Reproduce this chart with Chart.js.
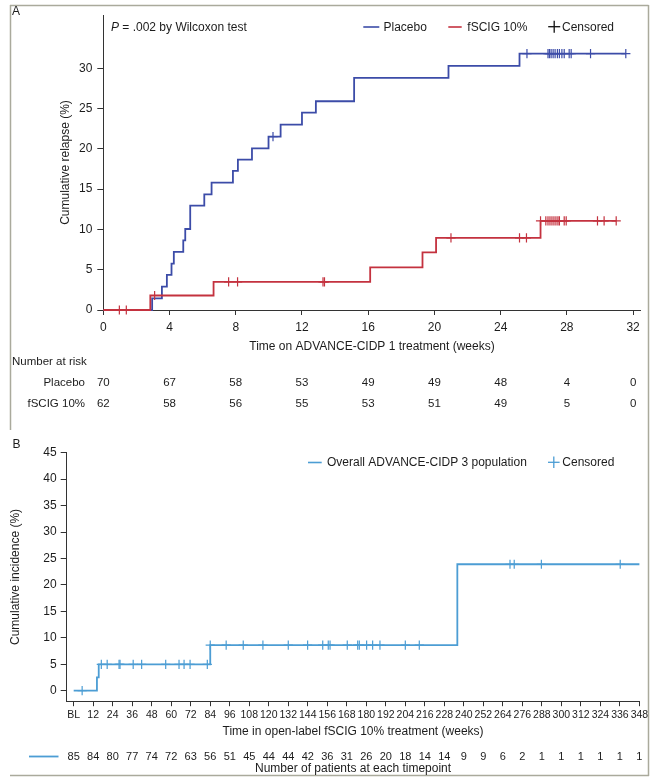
<!DOCTYPE html>
<html><head><meta charset="utf-8">
<script src="https://cdn.jsdelivr.net/npm/chart.js@4.4.1/dist/chart.umd.min.js"></script>
<style>
html,body{margin:0;padding:0;background:#fff;}
#wrap{position:relative;width:665px;height:777px;overflow:hidden;background:#fff;}
canvas{position:absolute;left:0;top:0;}
</style></head><body>
<div id="wrap"><canvas id="cA" width="665" height="777"></canvas><canvas id="cB" width="665" height="777"></canvas></div>
<script>
// ---------- Panel A data ----------
const placeboTimes   = [0, 2.95, 3.54, 3.84, 4.12, 4.26, 4.83, 4.95, 5.25, 6.10, 6.54, 7.83, 8.13, 8.98, 9.98, 10.71, 12.00, 12.84, 15.15, 20.85, 25.14, 31.56];
const placeboRelapse = [0, 1.45, 2.9, 4.35, 5.75, 7.2, 8.65, 10.05, 12.95, 14.35, 15.8, 17.25, 18.65, 20.05, 21.5, 23.0, 24.5, 25.9, 28.8, 30.3, 31.8, 31.8];
const placeboCensored = [10.25, 25.59, 26.86, 26.95, 27.05, 27.17, 27.29, 27.43, 27.55, 27.70, 27.84, 28.14, 28.26, 29.43, 31.56];
const fscigTimes   = [0, 2.84, 6.66, 16.12, 19.28, 20.10, 26.41, 30.98];
const fscigRelapse = [0, 1.8, 3.5, 5.3, 7.15, 8.95, 11.05, 11.05];
const fscigCensored = [0.97, 1.39, 3.10, 7.57, 8.11, 13.27, 13.36, 21.0, 25.14, 25.56, 26.41, 26.73, 26.86, 26.98, 27.10, 27.22, 27.34, 27.46, 27.55, 27.84, 27.96, 29.85, 30.25, 30.98];
const xTicksA = [0, 4, 8, 12, 16, 20, 24, 28, 32];
const yTicksA = [0, 5, 10, 15, 20, 25, 30];
const riskTimesA = [0, 4, 8, 12, 16, 20, 24, 28, 32];
const riskPlacebo = [70, 67, 58, 53, 49, 49, 48, 4, 0];
const riskFscig   = [62, 58, 56, 55, 53, 51, 49, 5, 0];

// ---------- Panel B data ----------
const overallTimes     = [0, 14.3, 15.4, 84.0, 236.0, 348];
const overallIncidence = [0, 2.5, 4.95, 8.6, 23.9, 23.9];
const overallCensored  = [5.2, 17.0, 20.6, 27.9, 28.5, 36.6, 41.8, 56.6, 64.8, 67.9, 71.6, 82.2, 84.0, 93.8, 104.3, 116.4, 132.0, 143.9, 153.2, 156.6, 157.7, 168.3, 174.7, 175.7, 180.2, 183.9, 188.4, 204.0, 212.6, 268.4, 271.0, 287.7, 336.2];
const xTickWeeksB  = [0, 12, 24, 36, 48, 60, 72, 84, 96, 108, 120, 132, 144, 156, 168, 180, 192, 204, 216, 228, 240, 252, 264, 276, 288, 300, 312, 324, 336, 348];
const xTickLabelsB = ['BL', '12', '24', '36', '48', '60', '72', '84', '96', '108', '120', '132', '144', '156', '168', '180', '192', '204', '216', '228', '240', '252', '264', '276', '288', '300', '312', '324', '336', '348'];
const patientsB    = [85, 84, 80, 77, 74, 72, 63, 56, 51, 45, 44, 44, 42, 36, 31, 26, 20, 18, 14, 14, 9, 9, 6, 2, 1, 1, 1, 1, 1, 1];
const yTicksB = [0, 5, 10, 15, 20, 25, 30, 35, 40, 45];

// ---------- styling ----------
const FONT = "'Liberation Sans', Arial, Helvetica, sans-serif";
const TXT = '#1c1c1c';
const AX = '#333333';
const BLUE_A = '#3c4ca8';
const RED_A = '#c4323f';
const BLUE_B = '#4c9dd4';
const FRAME = '#aaaa9c';

function stepPoints(times, vals) { return times.map((t, i) => ({ x: t, y: vals[i] })); }
function levelAt(times, vals, t) {
  let v = vals[0];
  for (let i = 0; i < times.length; i++) if (times[i] <= t + 1e-9) v = vals[i];
  return v;
}
function censorPoints(cens, times, vals) { return cens.map(t => ({ x: t, y: levelAt(times, vals, t) })); }

function lineDs(label, pts, color) {
  return { label, data: pts, stepped: true, borderColor: color, backgroundColor: color, borderWidth: 1.8,
    pointRadius: 0, pointHoverRadius: 0, fill: false, clip: false };
}
function censDs(label, pts, color) {
  return { label, data: pts, showLine: false, pointStyle: 'cross', pointRadius: 4.6, pointHoverRadius: 4.6,
    borderColor: color, backgroundColor: color, pointBorderWidth: 1.2, borderWidth: 1.2, clip: false };
}
function axis(tickVals, tickLen, pad, size, labels) {
  return {
    type: 'linear',
    afterBuildTicks: s => { s.ticks = tickVals.map(v => ({ value: v })); },
    grid: { display: true, drawOnChartArea: false, drawTicks: true, tickLength: tickLen, color: AX, lineWidth: 1 },
    border: { display: true, color: AX, width: 1 },
    ticks: { autoSkip: false, maxRotation: 0, minRotation: 0, padding: pad, color: TXT,
      font: { family: FONT, size: size },
      callback: labels ? ((v, i) => labels[i]) : (v => String(v)) }
  };
}
function txt(ctx, s, x, y, o = {}) {
  ctx.save();
  ctx.font = `${o.style || ''} ${o.size || 12}px ${FONT}`;
  ctx.fillStyle = o.color || TXT;
  ctx.textAlign = o.align || 'left';
  ctx.textBaseline = 'middle';
  ctx.fillText(s, x, y);
  ctx.restore();
}
function seg(ctx, x1, y1, x2, y2, color, w) {
  ctx.save(); ctx.strokeStyle = color; ctx.lineWidth = w; ctx.beginPath();
  ctx.moveTo(x1, y1); ctx.lineTo(x2, y2); ctx.stroke(); ctx.restore();
}
function plus(ctx, x, y, r, color, w) {
  seg(ctx, x - r, y, x + r, y, color, w);
  seg(ctx, x, y - r, x, y + r, color, w);
}

// ---------- Chart A ----------
const annotA = {
  id: 'annotA',
  afterDraw(chart) {
    const ctx = chart.ctx;
    // frame
    seg(ctx, 10, 5.5, 648.5, 5.5, FRAME, 1.5);
    seg(ctx, 648.5, 5, 648.5, 776, FRAME, 1.5);
    seg(ctx, 10.5, 5, 10.5, 430, FRAME, 1.5);
    seg(ctx, 10, 775.5, 649, 775.5, FRAME, 1.5);
    txt(ctx, 'A', 12, 12, { size: 12 });
    // p-value
    ctx.save();
    ctx.font = `italic 12px ${FONT}`;
    const wP = ctx.measureText('P').width;
    ctx.restore();
    txt(ctx, 'P', 111, 27.5, { style: 'italic' });
    txt(ctx, ' = .002 by Wilcoxon test', 111 + wP, 27.5);
    // legend
    seg(ctx, 363.3, 27, 379.3, 27, BLUE_A, 1.6);
    txt(ctx, 'Placebo', 383.5, 27.5);
    seg(ctx, 448.3, 27, 461.7, 27, RED_A, 1.6);
    txt(ctx, 'fSCIG 10%', 467.3, 27.5);
    plus(ctx, 554.2, 26.7, 6, '#111', 1.3);
    txt(ctx, 'Censored', 562, 27.5);
    // number at risk
    const xs = chart.scales.x;
    txt(ctx, 'Number at risk', 12, 362, { size: 11.5 });
    txt(ctx, 'Placebo', 85, 383, { size: 11.5, align: 'right' });
    txt(ctx, 'fSCIG 10%', 85, 403.5, { size: 11.5, align: 'right' });
    riskTimesA.forEach((t, i) => {
      const px = xs.getPixelForValue(t);
      txt(ctx, String(riskPlacebo[i]), px, 383, { size: 11.5, align: 'center' });
      txt(ctx, String(riskFscig[i]), px, 403.5, { size: 11.5, align: 'center' });
    });
  }
};

const xA = axis(xTicksA, 5, 5, 12);
xA.min = 0; xA.max = 32.46;
xA.afterFit = s => { s.height = 777 - 310; };
xA.title = { display: true, text: 'Time on ADVANCE-CIDP 1 treatment (weeks)', color: TXT,
  font: { family: FONT, size: 12 }, padding: { top: 0, bottom: 422.8 } };
const yA = axis(yTicksA, 6, 5, 12);
yA.min = 0; yA.max = 36.6;
yA.afterFit = s => { s.width = 103.3; };
yA.title = { display: true, text: 'Cumulative relapse (%)', color: TXT,
  font: { family: FONT, size: 12 }, padding: { top: 58.5, bottom: 0 } };

new Chart(document.getElementById('cA'), {
  type: 'line',
  data: { datasets: [
    lineDs('fSCIG 10%', stepPoints(fscigTimes, fscigRelapse), RED_A),
    censDs('fSCIG 10% censored', censorPoints(fscigCensored, fscigTimes, fscigRelapse), RED_A),
    lineDs('Placebo', stepPoints(placeboTimes, placeboRelapse), BLUE_A),
    censDs('Placebo censored', censorPoints(placeboCensored, placeboTimes, placeboRelapse), BLUE_A)
  ] },
  options: {
    responsive: false, animation: false, devicePixelRatio: 1, events: [],
    layout: { padding: { left: 0, top: 15, right: 24.3, bottom: 0 } },
    plugins: { legend: { display: false }, tooltip: { enabled: false }, title: { display: false } },
    scales: { x: xA, y: yA }
  },
  plugins: [annotA]
});

// ---------- Chart B ----------
const annotB = {
  id: 'annotB',
  afterDraw(chart) {
    const ctx = chart.ctx;
    txt(ctx, 'B', 12.5, 445, { size: 12 });
    seg(ctx, 308, 462.5, 321.7, 462.5, BLUE_B, 1.6);
    txt(ctx, 'Overall ADVANCE-CIDP 3 population', 327, 463);
    plus(ctx, 553.8, 462.3, 5.8, BLUE_B, 1.3);
    txt(ctx, 'Censored', 562.3, 463);
    const xs = chart.scales.x;
    seg(ctx, 29, 756.5, 58.5, 756.5, BLUE_B, 1.8);
    xTickWeeksB.forEach((t, i) => {
      txt(ctx, String(patientsB[i]), xs.getPixelForValue(t), 756.5, { size: 11, align: 'center' });
    });
    txt(ctx, 'Number of patients at each timepoint', (xs.left + xs.right) / 2, 769, { size: 12, align: 'center' });
  }
};

const xB = axis(xTickWeeksB, 5, 3, 10.5, xTickLabelsB);
xB.min = -4.3; xB.max = 348;
xB.afterFit = s => { s.height = 777 - 701.2; };
xB.title = { display: true, text: 'Time in open-label fSCIG 10% treatment (weeks)', color: TXT,
  font: { family: FONT, size: 12 }, padding: { top: 0, bottom: 38.1 } };
const yB = axis(yTicksB, 6, 4, 12);
yB.min = -2; yB.max = 45;
yB.afterFit = s => { s.width = 66.7; };
yB.title = { display: true, text: 'Cumulative incidence (%)', color: TXT,
  font: { family: FONT, size: 12 }, padding: { top: 8.8, bottom: 0 } };

new Chart(document.getElementById('cB'), {
  type: 'line',
  data: { datasets: [
    censDs('Censored', censorPoints(overallCensored, overallTimes, overallIncidence), BLUE_B),
    lineDs('Overall ADVANCE-CIDP 3 population', stepPoints(overallTimes, overallIncidence), BLUE_B)
  ] },
  options: {
    responsive: false, animation: false, devicePixelRatio: 1, events: [],
    layout: { padding: { left: 0, top: 452.7, right: 25.6, bottom: 0 } },
    plugins: { legend: { display: false }, tooltip: { enabled: false }, title: { display: false } },
    scales: { x: xB, y: yB }
  },
  plugins: [annotB]
});
</script>
</body></html>
